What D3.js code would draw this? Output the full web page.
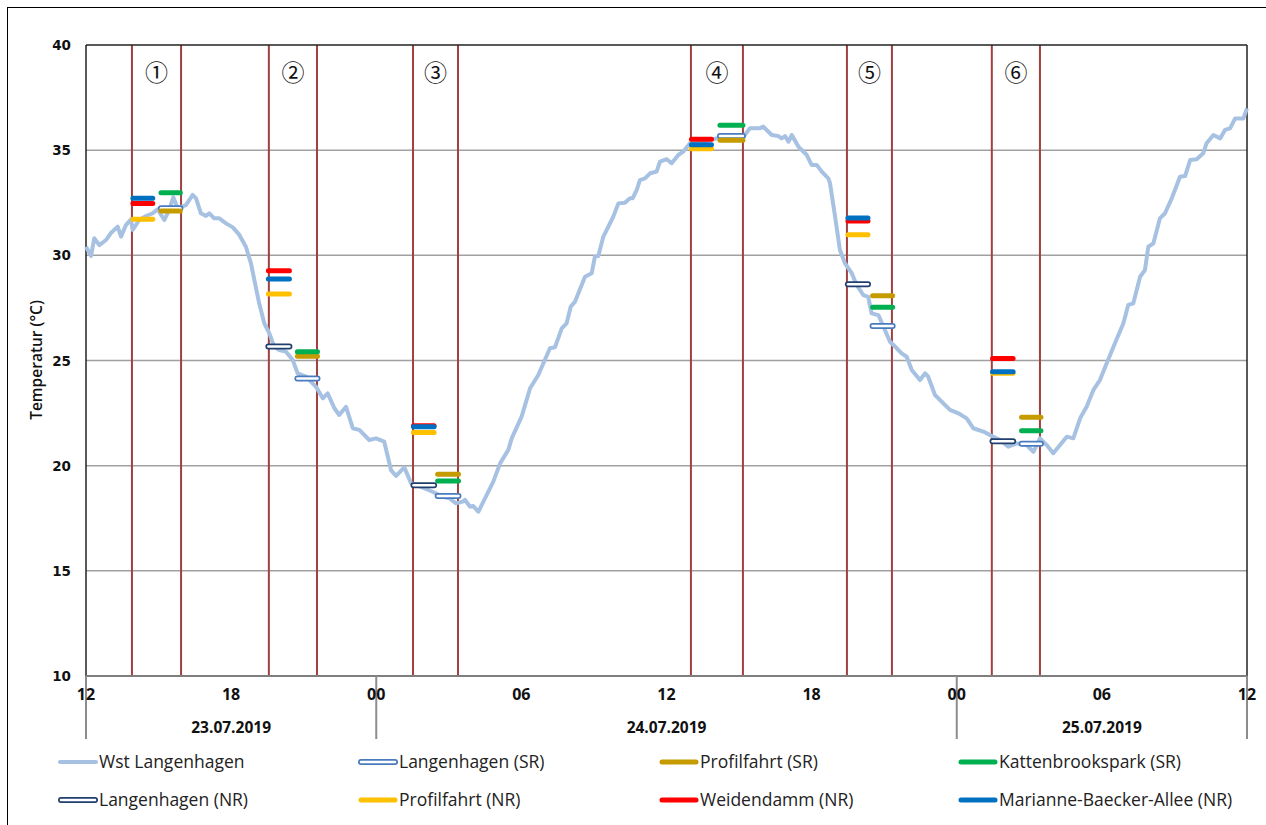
<!DOCTYPE html>
<html><head><meta charset="utf-8">
<script src="https://cdn.jsdelivr.net/npm/d3@7"></script>
<style>body{margin:0;background:#fff}</style>
</head><body><svg id="c" width="1266" height="825"></svg>
<script>
// hours since 23.07.2019 12:00
const stationHours = [0,0.21,0.34,0.55,0.83,1.03,1.31,1.45,1.65,1.86,1.93,2.20,2.48,2.76,2.96,3.24,3.44,3.61,3.79,4.13,4.41,4.55,4.75,4.96,5.10,5.30,5.51,5.79,6.07,6.34,6.61,6.82,6.96,7.16,7.37,7.58,7.78,7.99,8.27,8.55,8.75,9.10,9.51,9.79,9.99,10.27,10.47,10.75,11.03,11.30,11.71,11.99,12.33,12.61,12.82,13.16,13.44,13.78,14.33,14.75,15.02,15.30,15.57,15.67,15.88,16.01,16.22,16.43,16.84,17.12,17.46,17.60,18.01,18.36,18.70,19.18,19.39,19.67,19.87,20.04,20.22,20.63,20.91,21.04,21.18,21.39,21.80,22.01,22.28,22.49,22.60,22.77,22.90,23.11,23.32,23.59,23.73,24.01,24.21,24.49,24.69,24.97,25.52,26.07,26.63,27.18,27.45,27.87,28.00,28.35,28.62,28.76,28.90,29.04,29.18,29.45,29.80,30.00,30.21,30.42,30.62,30.69,30.76,30.97,31.17,31.38,31.66,31.86,32.14,32.34,32.48,32.76,33.03,33.24,33.52,33.72,33.93,34.14,34.48,34.69,34.82,35.10,35.38,35.72,36.07,36.41,36.68,37.10,37.37,37.79,38.13,38.48,38.89,39.17,39.44,39.72,39.99,40.27,40.55,40.82,41.10,41.37,41.65,41.92,42.20,42.54,42.89,43.09,43.30,43.58,43.78,43.92,44.13,44.40,44.61,44.89,45.23,45.44,45.65,45.92,46.19,46.33,46.61,46.89,47.09,47.30,47.51,47.85,48.0];
const stationTemp = [30.41,29.97,30.81,30.49,30.73,31.06,31.36,30.89,31.44,31.71,31.21,31.68,31.87,32.0,32.19,31.68,32.16,32.76,32.24,32.39,32.87,32.71,32.0,31.87,32.0,31.76,31.76,31.52,31.33,30.97,30.41,29.62,28.83,27.72,26.77,26.29,25.66,25.50,25.42,25.02,24.39,24.23,23.75,23.20,23.44,22.73,22.41,22.80,21.78,21.70,21.22,21.30,21.14,19.79,19.51,19.92,19.16,19.03,18.76,18.52,18.45,18.21,18.29,18.37,18.05,18.08,17.81,18.29,19.24,20.11,20.75,21.30,22.33,23.68,24.31,25.58,25.63,26.53,26.77,27.56,27.80,28.98,29.15,29.94,29.97,30.89,31.84,32.47,32.50,32.71,32.71,33.11,33.58,33.66,33.90,33.98,34.45,34.57,34.38,34.77,34.93,35.33,35.41,35.56,35.72,35.64,36.04,36.04,36.12,35.72,35.67,35.56,35.67,35.40,35.72,35.17,34.77,34.30,34.30,33.98,33.74,33.66,33.43,31.84,30.25,29.62,29.15,28.59,28.11,28.03,27.24,27.16,26.45,25.89,25.58,25.34,25.18,24.55,24.07,24.39,24.23,23.36,23.04,22.65,22.49,22.25,21.78,21.62,21.46,21.22,20.90,21.06,20.98,20.66,21.30,20.98,20.59,20.98,21.38,21.30,22.25,22.80,23.60,24.07,24.87,25.82,26.77,27.64,27.72,28.98,29.30,30.41,30.57,31.76,32.0,32.71,33.74,33.77,34.53,34.57,34.85,35.33,35.72,35.56,35.96,36.04,36.51,36.51,36.99];

const episodeLabels = ["①","②","③","④","⑤","⑥"];
const episodeStart = [1.90, 7.56, 13.52, 25.01, 31.46, 37.45];
const episodeEnd   = [3.93, 9.55, 15.38, 27.16, 33.32, 39.44];
const nrWindowStart = [1.94, 7.54, 13.54, 25.03, 31.50, 37.48];
const nrWindowEnd   = [2.76, 8.41, 14.39, 25.86, 32.33, 38.33];
const srWindowStart = [3.10, 8.74, 14.54, 26.21, 32.52, 38.68];
const srWindowEnd   = [3.90, 9.57, 15.40, 27.16, 33.35, 39.48];

const langenhagenSR = [32.24, 24.14, 18.56, 35.67, 26.64, 21.04];
const profilfahrtSR = [32.11, 25.20, 19.59, 35.47, 28.08, 22.30];
const kattenbrookSR = [32.97, 25.42, 19.27, 36.18, 27.53, 21.66];
const langenhagenNR = [null, 25.66, 19.07, null, 28.62, 21.16];
const profilfahrtNR = [31.71, 28.16, 21.58, 35.07, 30.98, 24.39];
const weidendammNR  = [32.47, 29.27, 21.90, 35.52, 31.63, 25.10];
const marianneNR    = [32.71, 28.88, 21.85, 35.26, 31.78, 24.47];

const xTickHours  = [0, 6, 12, 18, 24, 30, 36, 42, 48];
const xTickLabels = ["12","18","00","06","12","18","00","06","12"];
const dayLabels = ["23.07.2019","24.07.2019","25.07.2019"];
const dayStart  = [0, 12, 36];
const dayEnd    = [12, 36, 48];
const yTicks = [10, 15, 20, 25, 30, 35, 40];

const series = [
  {name:"Wst Langenhagen", type:"line", color:"#a7c1e2"},
  {name:"Langenhagen (SR)", type:"outline", color:"#4a7bbf", values:langenhagenSR, win:"sr"},
  {name:"Profilfahrt (SR)", type:"bar", color:"#c59b00", values:profilfahrtSR, win:"sr"},
  {name:"Kattenbrookspark (SR)", type:"bar", color:"#00b050", values:kattenbrookSR, win:"sr"},
  {name:"Langenhagen (NR)", type:"outline", color:"#203f6e", values:langenhagenNR, win:"nr"},
  {name:"Profilfahrt (NR)", type:"bar", color:"#ffc000", values:profilfahrtNR, win:"nr"},
  {name:"Weidendamm (NR)", type:"bar", color:"#ff0000", values:weidendammNR, win:"nr"},
  {name:"Marianne-Baecker-Allee (NR)", type:"bar", color:"#0070c0", values:marianneNR, win:"nr"}
];

const svg = d3.select("#c");
const L = 86, R = 1247, T = 45, B = 676;
const x = d3.scaleLinear().domain([0, 48]).range([L, R]);
const y = d3.scaleLinear().domain([10, 40]).range([B, T]);
const font = "'Open Sans', 'Noto Sans', sans-serif";

// outer frame
svg.append("rect").attr("x",7.5).attr("y",7.5).attr("width",1270).attr("height",830)
  .attr("fill","none").attr("stroke","#000").attr("stroke-width",1);

// gridlines
svg.append("g").selectAll("line").data(yTicks.filter(d => d > 10 && d < 40)).join("line")
  .attr("x1", L).attr("x2", R).attr("y1", d => y(d)).attr("y2", d => y(d))
  .attr("stroke", "#a0a0a0").attr("stroke-width", 1.5);

// episode vertical lines
const evLines = episodeStart.concat(episodeEnd);
svg.append("g").selectAll("line").data(evLines).join("line")
  .attr("x1", d => x(d)).attr("x2", d => x(d)).attr("y1", T).attr("y2", B)
  .attr("stroke", "#a0413f").attr("stroke-width", 2);

// plot frame
svg.append("line").attr("x1",L).attr("x2",R).attr("y1",T).attr("y2",T).attr("stroke","#222").attr("stroke-width",1.5);
svg.append("line").attr("x1",L).attr("x2",L).attr("y1",T).attr("y2",B).attr("stroke","#222").attr("stroke-width",1.5);
svg.append("line").attr("x1",R).attr("x2",R).attr("y1",T).attr("y2",B).attr("stroke","#222").attr("stroke-width",1.5);

// x axis
svg.append("line").attr("x1",L).attr("x2",R).attr("y1",B).attr("y2",B).attr("stroke","#7f7f7f").attr("stroke-width",2);
const dayBounds = [0, 12, 36, 48];
svg.append("g").selectAll("line").data(dayBounds).join("line")
  .attr("x1", d => x(d)).attr("x2", d => x(d)).attr("y1", B).attr("y2", 739)
  .attr("stroke", "#8c8c8c").attr("stroke-width", 2);
svg.append("g").selectAll("text").data(xTickHours).join("text")
  .attr("x", d => x(d)).attr("y", 700).attr("text-anchor","middle")
  .attr("font-family", font).attr("font-weight","bold").attr("font-size",16).attr("fill","#111")
  .text((d,i) => xTickLabels[i]);
svg.append("g").selectAll("text").data(dayLabels).join("text")
  .attr("x", (d,i) => x((dayStart[i] + dayEnd[i]) / 2)).attr("y", 733).attr("text-anchor","middle")
  .attr("font-family", font).attr("font-weight","bold").attr("font-size",15.5).attr("fill","#111")
  .text(d => d);

// y axis labels
svg.append("g").selectAll("text").data(yTicks).join("text")
  .attr("x", 71).attr("y", d => y(d) + 5).attr("text-anchor","end")
  .attr("font-family", "'DejaVu Sans', Verdana, sans-serif").attr("font-weight","bold").attr("font-size",13.5).attr("fill","#111")
  .text(d => d);
svg.append("text").attr("transform","translate(42,360) rotate(-90)").attr("text-anchor","middle")
  .attr("font-family", font).attr("font-weight","600").attr("font-size",15.5).attr("fill","#111")
  .text("Temperatur (°C)");

// station line
const stationData = stationHours.map((h,i) => ({h, t: stationTemp[i]}));
svg.append("path").datum(stationData)
  .attr("d", d3.line().x(d => x(d.h)).y(d => y(d.t)))
  .attr("fill","none").attr("stroke", series[0].color).attr("stroke-width", 4)
  .attr("stroke-linejoin","round");

// measurement bars
function drawBar(g, s, x1, x2, yy) {
  if (s.type === "outline") {
    g.append("line").attr("x1",x1).attr("x2",x2).attr("y1",yy).attr("y2",yy)
      .attr("stroke", s.color).attr("stroke-width", 6).attr("stroke-linecap","round");
    g.append("line").attr("x1",x1).attr("x2",x2).attr("y1",yy).attr("y2",yy)
      .attr("stroke", "#fff").attr("stroke-width", 2.5).attr("stroke-linecap","round");
  } else {
    g.append("line").attr("x1",x1).attr("x2",x2).attr("y1",yy).attr("y2",yy)
      .attr("stroke", s.color).attr("stroke-width", 5).attr("stroke-linecap","round");
  }
}
const barsG = svg.append("g");
series.slice(1).forEach(s => {
  s.values.forEach((v, i) => {
    if (v == null) return;
    const a = s.win === "nr" ? nrWindowStart[i] : srWindowStart[i];
    const b = s.win === "nr" ? nrWindowEnd[i] : srWindowEnd[i];
    drawBar(barsG, s, x(a), x(b), y(v));
  });
});

// episode labels
svg.append("g").selectAll("text").data(episodeLabels).join("text")
  .attr("x", (d,i) => x((episodeStart[i] + episodeEnd[i]) / 2)).attr("y", 81)
  .attr("text-anchor","middle").attr("font-family","'Noto Sans CJK JP', 'DejaVu Sans', sans-serif")
  .attr("font-size",23).attr("fill","#111").text(d => d);

// legend
const legG = svg.append("g");
const colX = [60, 360, 661, 960];
const rowY = [762, 800];
series.forEach((s, i) => {
  const cx = colX[i % 4], cy = rowY[Math.floor(i / 4)];
  const g = legG.append("g");
  if (s.type === "line") {
    g.append("line").attr("x1",cx).attr("x2",cx+36).attr("y1",cy).attr("y2",cy)
      .attr("stroke", s.color).attr("stroke-width",4).attr("stroke-linecap","round");
  } else {
    drawBar(g, s, cx + 1, cx + 35, cy);
  }
  g.append("text").attr("x", cx + 39).attr("y", cy + 6)
    .attr("font-family", font).attr("font-size",17.5).attr("fill","#222").text(s.name);
});
</script></body></html>
